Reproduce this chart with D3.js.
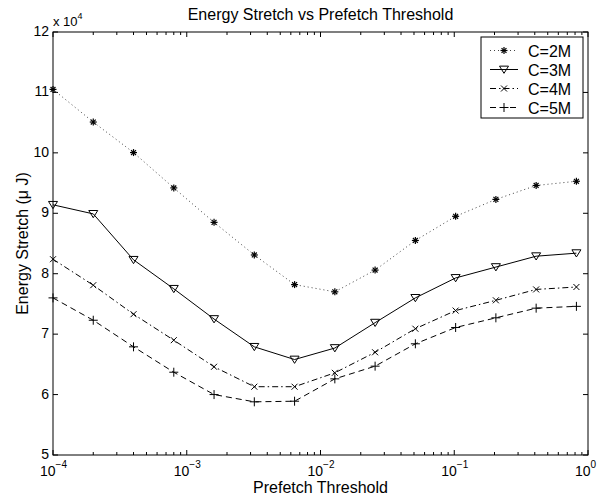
<!DOCTYPE html>
<html>
<head>
<meta charset="utf-8">
<script src="https://cdn.jsdelivr.net/npm/d3@7"></script>
<style>
  body { margin: 0; background: #fff; }
  text { font-family: "Liberation Sans", Arial, sans-serif; fill: #000; }
</style>
</head>
<body>
<svg id="chart" width="600" height="499"></svg>
<script>
// prefetch thresholds (x, log scale)
const thresholds = [1e-4, 2e-4, 4e-4, 8e-4, 1.6e-3, 3.2e-3, 6.4e-3, 1.28e-2, 2.56e-2, 5.12e-2, 0.1024, 0.2048, 0.4096, 0.8192]

// energy stretch (uJ), one array per cache size
const c2M = [110500, 105100, 100050, 94200, 88500, 83100, 78200, 77000, 80600, 85500, 89500, 92300, 94600, 95300]
const c3M = [91400, 89900, 82300, 77500, 72500, 67900, 65800, 67700, 71900, 76000, 79300, 81100, 82900, 83400]
const c4M = [82400, 78100, 73300, 69000, 64600, 61300, 61300, 63600, 67000, 70900, 73900, 75600, 77400, 77800]
const c5M = [76000, 72300, 67900, 63700, 60000, 58800, 58900, 62600, 64700, 68400, 71100, 72700, 74300, 74600]

const seriesNames = ['C=2M', 'C=3M', 'C=4M', 'C=5M']
const yTicks = [50000, 60000, 70000, 80000, 90000, 100000, 110000, 120000]
const xTicks = [1e-4, 1e-3, 1e-2, 1e-1, 1e0]
const xTickExp = ['\u22124', '\u22123', '\u22122', '\u22121', '0']

const margin = { top: 32, right: 12, bottom: 44, left: 53 }
const W = 600, H = 499

const svg = d3.select('#chart')

const x = d3.scaleLog().domain([1e-4, 1]).range([margin.left, W - margin.right])
const y = d3.scaleLinear().domain([50000, 120000]).range([H - margin.bottom, margin.top])

const styles = [
    { dash: '1,3', marker: 'star', color: '#444' },
    { dash: null, marker: 'tri', color: '#000' },
    { dash: '6,3,1.5,3', marker: 'x', color: '#000' },
    { dash: '6,4', marker: 'plus', color: '#000' }
]
const allSeries = [c2M, c3M, c4M, c5M]

const x0 = x.range()[0], x1 = x.range()[1]
const y0 = y.range()[0], y1 = y.range()[1]

// axes box
const axes = svg.append('g')
axes.append('rect')
    .attr('x', x0).attr('y', y1)
    .attr('width', x1 - x0).attr('height', y0 - y1)
    .attr('fill', 'none').attr('stroke', '#000').attr('stroke-width', 1)

// x ticks: major + log minor, both top and bottom, pointing in
const minor = []
for (let e = -4; e < 0; e++)
    for (let k = 2; k <= 9; k++) minor.push(k * Math.pow(10, e))

axes.append('g').selectAll('line')
    .data(minor)
    .join('line')
    .attr('x1', d => x(d)).attr('x2', d => x(d))
    .attr('y1', y0).attr('y2', y0 - 3)
    .attr('stroke', '#000')
axes.append('g').selectAll('line')
    .data(minor)
    .join('line')
    .attr('x1', d => x(d)).attr('x2', d => x(d))
    .attr('y1', y1).attr('y2', y1 + 3)
    .attr('stroke', '#000')
axes.append('g').selectAll('line')
    .data(xTicks)
    .join('line')
    .attr('x1', d => x(d)).attr('x2', d => x(d))
    .attr('y1', y0).attr('y2', y0 - 5)
    .attr('stroke', '#000')
axes.append('g').selectAll('line')
    .data(xTicks)
    .join('line')
    .attr('x1', d => x(d)).attr('x2', d => x(d))
    .attr('y1', y1).attr('y2', y1 + 5)
    .attr('stroke', '#000')

// x tick labels 10^n
const xl = axes.append('g').selectAll('text')
    .data(xTicks)
    .join('text')
    .attr('x', d => x(d) - 13)
    .attr('y', y0 + 21)
    .style('font-size', '14px')
xl.append('tspan').text('10')
xl.append('tspan').text((d, i) => xTickExp[i])
    .attr('dy', -8).style('font-size', '10px')

// y ticks left and right
axes.append('g').selectAll('line')
    .data(yTicks)
    .join('line')
    .attr('x1', x0).attr('x2', x0 + 5)
    .attr('y1', d => y(d)).attr('y2', d => y(d))
    .attr('stroke', '#000')
axes.append('g').selectAll('line')
    .data(yTicks)
    .join('line')
    .attr('x1', x1).attr('x2', x1 - 5)
    .attr('y1', d => y(d)).attr('y2', d => y(d))
    .attr('stroke', '#000')
axes.append('g').selectAll('text')
    .data(yTicks)
    .join('text')
    .attr('x', x0 - 4)
    .attr('y', d => y(d) + 4)
    .attr('text-anchor', 'end')
    .style('font-size', '14px')
    .text(d => d / 1e4)

// exponent note "x 10^4"
const ex = svg.append('text')
    .attr('x', x0)
    .attr('y', y1 - 6)
    .style('font-size', '13px')
ex.append('tspan').text('x 10')
ex.append('tspan').text('4').attr('dy', -7).style('font-size', '9px')

// titles
svg.append('text')
    .attr('x', (x0 + x1) / 2).attr('y', 20)
    .attr('text-anchor', 'middle')
    .style('font-size', '16px')
    .text('Energy Stretch vs Prefetch Threshold')
svg.append('text')
    .attr('x', (x0 + x1) / 2).attr('y', 493)
    .attr('text-anchor', 'middle')
    .style('font-size', '16px')
    .text('Prefetch Threshold')
svg.append('text')
    .attr('transform', `translate(28,${(y0 + y1) / 2}) rotate(-90)`)
    .attr('text-anchor', 'middle')
    .style('font-size', '16px')
    .text('Energy Stretch (\u03bc J)')

// marker drawing
function drawMarker(g, type, cx, cy, color) {
    if (type === 'star') {
        const r = 3.5
        const p = [[-r, 0, r, 0], [0, -r, 0, r], [-r * 0.7, -r * 0.7, r * 0.7, r * 0.7], [-r * 0.7, r * 0.7, r * 0.7, -r * 0.7]]
        p.forEach(s => g.append('line')
            .attr('x1', cx + s[0]).attr('y1', cy + s[1])
            .attr('x2', cx + s[2]).attr('y2', cy + s[3])
            .attr('stroke', '#000').attr('stroke-width', 1.2))
    } else if (type === 'tri') {
        const r = 4.5
        g.append('path')
            .attr('d', `M${cx - r},${cy - r * 0.75} L${cx + r},${cy - r * 0.75} L${cx},${cy + r * 0.85} Z`)
            .attr('fill', 'none').attr('stroke', '#000').attr('stroke-width', 1)
    } else if (type === 'x') {
        const r = 3
        g.append('path')
            .attr('d', `M${cx - r},${cy - r} L${cx + r},${cy + r} M${cx - r},${cy + r} L${cx + r},${cy - r}`)
            .attr('stroke', '#000').attr('stroke-width', 1)
    } else {
        const r = 4.5
        g.append('path')
            .attr('d', `M${cx - r},${cy} L${cx + r},${cy} M${cx},${cy - r} L${cx},${cy + r}`)
            .attr('stroke', '#000').attr('stroke-width', 1)
    }
}

const line = d3.line()
    .x(d => x(d[0]))
    .y(d => y(d[1]))

const plot = svg.append('g')
allSeries.forEach((vals, i) => {
    const pts = thresholds.map((t, j) => [t, vals[j]])
    const st = styles[i]
    plot.append('path')
        .datum(pts)
        .attr('d', line)
        .attr('fill', 'none')
        .attr('stroke', st.color)
        .attr('stroke-width', 1)
        .attr('stroke-dasharray', st.dash)
    const mg = plot.append('g')
    pts.forEach(p => drawMarker(mg, st.marker, x(p[0]), y(p[1]), st.color))
})

// legend
const lg = svg.append('g')
lg.append('rect')
    .attr('x', 481).attr('y', 37)
    .attr('width', 102).attr('height', 81)
    .attr('fill', '#fff').attr('stroke', '#000')
seriesNames.forEach((name, i) => {
    const ly = 50.5 + i * 19
    const st = styles[i]
    lg.append('line')
        .attr('x1', 490).attr('x2', 518)
        .attr('y1', ly).attr('y2', ly)
        .attr('stroke', st.color).attr('stroke-width', 1)
        .attr('stroke-dasharray', st.dash)
    drawMarker(lg, st.marker, 504, ly, st.color)
    lg.append('text')
        .attr('x', 528).attr('y', ly + 6)
        .style('font-size', '16px')
        .text(name)
})
</script>
</body>
</html>
